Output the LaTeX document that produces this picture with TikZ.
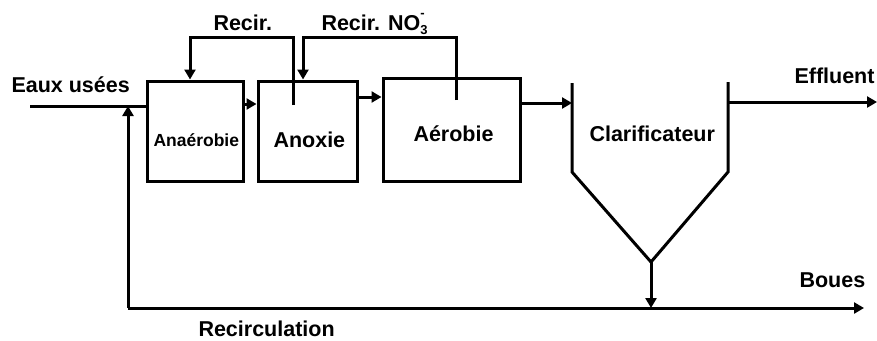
\documentclass[tikz,border=0pt]{standalone}
\usepackage{fontspec}
\setmainfont{Liberation Sans}
\usetikzlibrary{arrows.meta}
\begin{document}
\begin{tikzpicture}[x=1pt,y=-1pt,
  line width=3pt,
  font=\bfseries\fontsize{21.5}{23}\selectfont,
  box/.style={draw, minimum width=#1, inner sep=0pt, minimum height=100pt},
  arr/.style={-{Triangle[length=10pt,width=11pt]}},
  txt/.style={anchor=base west, inner sep=0pt}]
\useasboundingbox (0,0) rectangle (877,340);
% reactors
\node[box=96pt] (ana) at (195,131) {};
\node[box=99pt] (anox) at (307.5,131) {};
\node[box=137pt, minimum height=103pt] (aer) at (451.5,129.5) {};
% clarifier
\coordinate (cl1) at (572,83);
\coordinate (cl2) at (572,172);
\coordinate (cbot) at (651,262);
\coordinate (cl3) at (728,172);
\coordinate (cl4) at (728,82);
\draw[line join=miter] (cl1) -- (cl2) -- (cbot) -- (cl3) -- (cl4);
% inflow and recirculation
\coordinate (in) at (30,106);
\coordinate (rc) at (128,308);
\coordinate (bout) at (864,308);
\coordinate (eout) at (877,102);
\draw (in) -- (ana.west |- in);
\draw[arr] (rc) -- (rc |- in);
\draw[arr] (rc) -- (bout);
% between reactors
\draw[arr] (ana.east |- 0,104) -- (anox.west |- 0,104);
\draw[arr] (anox.east |- 0,97) -- (aer.west |- 0,97);
\draw[arr] (aer.east |- 0,103) -- (cl1 |- 0,103);
% internal recirculations
\coordinate (r1) at (293,105);
\coordinate (r2) at (456,100);
\draw[arr] (r1) -- (r1 |- 0,37) -- (190,37) -- (ana.north -| 190,0);
\draw[arr] (r2) -- (r2 |- 0,37) -- (303,37) -- (anox.north -| 303,0);
% outlets
\draw[arr] (cl4 |- eout) -- (eout);
\draw[arr] (cbot) -- (cbot |- rc);
% labels
\node[txt] (t1) at (10,92) {Eaux usées};
\node[txt] (t2) at (212,30) {Recir.};
\node[txt] (t3) at (320,30) {Recir. NO\rlap{\raisebox{-0.4ex}{\fontsize{13}{13}\selectfont 3}}\raisebox{1.1ex}{\fontsize{13}{13}\selectfont -}};
\node[txt, font=\bfseries\fontsize{17.5}{19}\selectfont] (t4) at (152,146) {Anaérobie};
\node[txt] (t5) at (272,147) {Anoxie};
\node[txt] (t6) at (412,141) {Aérobie};
\node[txt] (t7) at (588,141) {Clarificateur};
\node[txt] (t8) at (793,83) {Effluent};
\node[txt] (t9) at (798,287) {Boues};
\node[txt] (t10) at (197,336) {Recirculation};
\end{tikzpicture}
\end{document}
